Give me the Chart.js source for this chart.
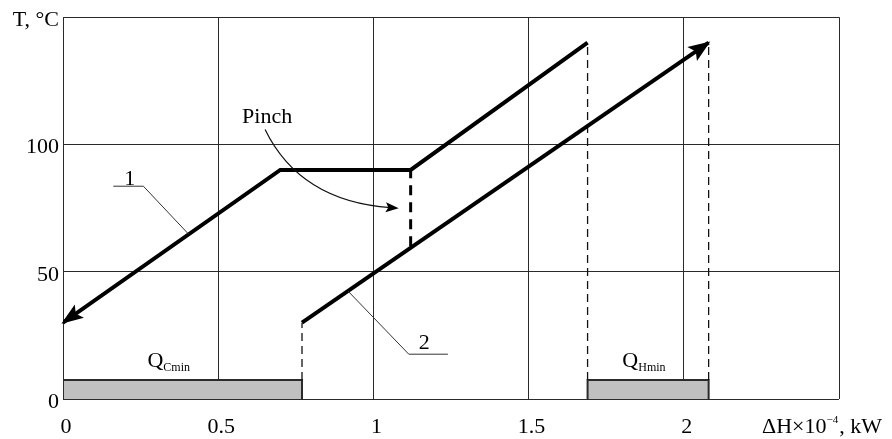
<!DOCTYPE html>
<html>
<head>
<meta charset="utf-8">
<script src="https://cdn.jsdelivr.net/npm/chart.js@4.4.1/dist/chart.umd.min.js"></script>
<style>
  html, body { margin: 0; padding: 0; background: #fff; }
  canvas { display: block; }
</style>
</head>
<body>
<canvas id="c" width="892" height="439"></canvas>
<script>
// Hot composite curve (1): ΔH×10^-4 kW against temperature, °C
const hotH = [0, 0.70, 1.12, 1.69];
const hotT = [30, 90, 90, 140];
// Cold composite curve (2)
const coldH = [0.77, 2.08];
const coldT = [30, 140];
// Pinch gap between the curves
const pinchH = [1.12, 1.12];
const pinchT = [60, 90];
// Minimum utility spans along ΔH
const qCminH = [0, 0.77];
const qHminH = [1.69, 2.08];
// Axis ticks and their labels
const xTicks = [0, 0.5, 1, 1.5, 2, 2.5];
const xTickLabels = ['0', '0.5', '1', '1.5', '2', ''];
const yTicks = [0, 50, 100, 150];
const yTickLabels = ['0', '50', '100', 'T, °C'];

// Drawing constants
const barTop = 7.5;               // height of the utility bars, °C units
const SERIF = '"Liberation Serif", "Times New Roman", serif';
const INK = '#000';

// Where the callouts sit, in data units
const notes = {
  one:   { text: '1', h: 0.215, t: 83.6, h0: 0.162, h1: 0.259, target: 0.405 },
  two:   { text: '2', h: 1.164, t: 17.6, h0: 1.114, h1: 1.240, target: 0.918 },
  pinch: { h: 0.577, t: 108.6, p0: [0.651, 105.9], c: [0.764, 77.7], p1: [1.075, 75.0] },
  qc:    { h: 0.272, t: 12.6, sub: 'Cmin' },
  qh:    { h: 1.802, t: 12.6, sub: 'Hmin' }
};

const pts = (xs, ys) => xs.map((x, i) => ({ x, y: ys[i] }));
const rect = xs => [
  { x: xs[0], y: 0 }, { x: xs[0], y: barTop },
  { x: xs[1], y: barTop }, { x: xs[1], y: 0 }
];
const interp = (hs, ts, h) => {
  for (let i = 0; i < hs.length - 1; i++) {
    if (h >= hs[i] && h <= hs[i + 1]) {
      return ts[i] + (ts[i + 1] - ts[i]) * (h - hs[i]) / (hs[i + 1] - hs[i]);
    }
  }
  return ts[ts.length - 1];
};

const thick = { borderColor: INK, borderWidth: 4, pointRadius: 0, fill: false,
                borderJoinStyle: 'miter', borderCapStyle: 'butt', tension: 0 };
const guide = { borderColor: '#111', borderWidth: 1.3, borderDash: [8, 5], pointRadius: 0,
                fill: false, tension: 0 };
const bar = { borderColor: '#2b2b2b', borderWidth: 2, backgroundColor: '#c0c0c0',
              pointRadius: 0, fill: { target: { value: 0 } }, tension: 0,
              borderJoinStyle: 'miter' };

function arrowHead(ctx, tx, ty, fx, fy, len, halfW) {
  const dx = tx - fx, dy = ty - fy, d = Math.hypot(dx, dy);
  const ux = dx / d, uy = dy / d, nx = -uy, ny = ux;
  const tipX = tx + ux * 2, tipY = ty + uy * 2;
  const bx = tipX - ux * len, by = tipY - uy * len;
  const notchX = tipX - ux * len * 0.8, notchY = tipY - uy * len * 0.8;
  ctx.beginPath();
  ctx.moveTo(tipX, tipY);
  ctx.lineTo(bx + nx * halfW, by + ny * halfW);
  ctx.lineTo(notchX, notchY);
  ctx.lineTo(bx - nx * halfW, by - ny * halfW);
  ctx.closePath();
  ctx.fill();
}

const callouts = {
  id: 'callouts',
  afterDatasetsDraw(chart) {
    const { ctx, scales: { x, y }, chartArea } = chart;
    const px = h => x.getPixelForValue(h);
    const py = t => y.getPixelForValue(t);
    ctx.save();
    ctx.fillStyle = INK;

    // arrowheads on the composite curves
    arrowHead(ctx, px(hotH[0]), py(hotT[0]), px(hotH[1]), py(hotT[1]), 22, 8);
    arrowHead(ctx, px(coldH[1]), py(coldT[1]), px(coldH[0]), py(coldT[0]), 22, 8.5);

    // curve labels with leaders
    ctx.strokeStyle = '#333';
    ctx.lineWidth = 1;
    const n1 = notes.one, n2 = notes.two;
    ctx.beginPath();
    ctx.moveTo(px(n1.h0), py(n1.t));
    ctx.lineTo(px(n1.h1), py(n1.t));
    ctx.lineTo(px(n1.target), py(interp(hotH, hotT, n1.target)));
    ctx.moveTo(px(n2.h1), py(n2.t));
    ctx.lineTo(px(n2.h0), py(n2.t));
    ctx.lineTo(px(n2.target), py(interp(coldH, coldT, n2.target)));
    ctx.stroke();

    ctx.font = '22px ' + SERIF;
    ctx.textAlign = 'center';
    ctx.textBaseline = 'alphabetic';
    ctx.fillText(n1.text, px(n1.h), py(n1.t) - 1);
    ctx.fillText(n2.text, px(n2.h), py(n2.t) - 5);

    // Pinch label and its curved pointer
    const pn = notes.pinch;
    ctx.textAlign = 'left';
    ctx.fillText('Pinch', px(pn.h), py(pn.t));
    const sx = px(pn.p0[0]), sy = py(pn.p0[1]);
    const cx = px(pn.c[0]), cy = py(pn.c[1]);
    const ex = px(pn.p1[0]), ey = py(pn.p1[1]);
    ctx.lineWidth = 1.2;
    ctx.strokeStyle = '#111';
    ctx.beginPath();
    ctx.moveTo(sx, sy);
    ctx.quadraticCurveTo(cx, cy, ex - 6, ey - 0.5);
    ctx.stroke();
    arrowHead(ctx, ex, ey, cx, cy, 13, 5);

    // utility labels
    for (const q of [notes.qc, notes.qh]) {
      const qx = px(q.h), qy = py(q.t);
      ctx.font = '22px ' + SERIF;
      ctx.fillText('Q', qx, qy);
      const w = ctx.measureText('Q').width;
      ctx.font = '12px ' + SERIF;
      ctx.fillText(q.sub, qx + w, qy + 4);
    }

    // ΔH axis title with superscript exponent
    let ax = chartArea.right - 77;
    const ay = chartArea.bottom + 34;
    ctx.font = '22px ' + SERIF;
    ctx.fillText('ΔH×10', ax, ay);
    ax += ctx.measureText('ΔH×10').width;
    ctx.font = '11px ' + SERIF;
    ctx.fillText('−4', ax, ay - 10);
    ax += ctx.measureText('−4').width + 1;
    ctx.font = '22px ' + SERIF;
    ctx.fillText(', kW', ax, ay);

    ctx.restore();
  }
};

const labelFor = (ticks, labels) => v => {
  const i = ticks.findIndex(t => Math.abs(t - v) < 1e-9);
  return i >= 0 ? labels[i] : '';
};

new Chart(document.getElementById('c'), {
  type: 'line',
  data: {
    datasets: [
      { ...thick, data: pts(hotH, hotT) },
      { ...thick, data: pts(coldH, coldT) },
      { ...thick, borderWidth: 3, borderDash: [10, 7], data: pts(pinchH, pinchT) },
      { ...guide, data: [{ x: coldH[0], y: barTop }, { x: coldH[0], y: coldT[0] }] },
      { ...guide, data: [{ x: hotH[3], y: barTop }, { x: hotH[3], y: hotT[3] }] },
      { ...guide, data: [{ x: coldH[1], y: barTop }, { x: coldH[1], y: coldT[1] }] },
      { ...bar, data: rect(qCminH) },
      { ...bar, data: rect(qHminH) }
    ]
  },
  options: {
    responsive: false,
    animation: false,
    devicePixelRatio: 1,
    layout: { padding: { top: 15, right: 53, left: 0, bottom: 0 } },
    plugins: { legend: { display: false }, tooltip: { enabled: false } },
    scales: {
      x: {
        type: 'linear', min: 0, max: 2.5,
        afterBuildTicks: s => { s.ticks = xTicks.map(v => ({ value: v })); },
        afterFit: s => { s.height = 40; },
        grid: { color: '#2a2a2a', lineWidth: 1, drawTicks: false },
        border: { display: false },
        ticks: { callback: labelFor(xTicks, xTickLabels), color: INK, padding: 15,
                 labelOffset: 3, maxRotation: 0, autoSkip: false,
                 font: { family: SERIF, size: 22 } }
      },
      y: {
        type: 'linear', min: 0, max: 150,
        afterBuildTicks: s => { s.ticks = yTicks.map(v => ({ value: v })); },
        afterFit: s => { s.width = 63; },
        grid: { color: '#2a2a2a', lineWidth: 1, drawTicks: false },
        border: { display: false },
        ticks: { callback: labelFor(yTicks, yTickLabels), color: INK, padding: 4,
                 labelOffset: 3, autoSkip: false,
                 font: { family: SERIF, size: 22 } }
      }
    }
  },
  plugins: [callouts]
});
</script>
</body>
</html>
